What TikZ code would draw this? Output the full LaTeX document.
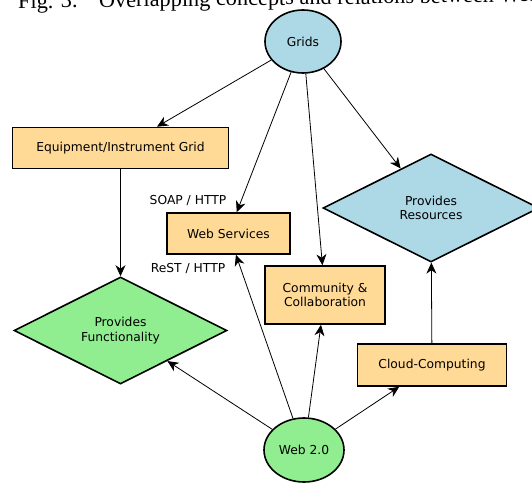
\documentclass[tikz,border=0pt]{standalone}
\usepackage{fontspec}
\setmainfont{DejaVu Sans}
\newfontfamily\capfont{Liberation Serif}
\usetikzlibrary{shapes.geometric,arrows.meta}
\definecolor{boxorange}{RGB}{255,217,150}
\definecolor{nodeblue}{RGB}{173,216,230}
\definecolor{nodegreen}{RGB}{144,238,144}
\tikzset{
  lbl/.style={font=\fontsize{12.3}{14.5}\selectfont, align=center},
  rectbox/.style={lbl, draw=black, line width=1.6pt, fill=boxorange, inner sep=0pt},
  ellnode/.style={lbl, ellipse, draw=black, line width=1.6pt, inner sep=0pt},
  dianode/.style={lbl, diamond, draw=black, line width=1.6pt, inner sep=0pt},
  conn/.style={line width=0.8pt, -{Stealth[length=11pt,width=10pt,inset=3.5pt]}},
  tag/.style={font=\fontsize{12.3}{14.5}\selectfont}
}
\begin{document}
\begin{tikzpicture}[x=1pt,y=-1pt]
\useasboundingbox (0,0) rectangle (532,484);
\clip (0,0) rectangle (532,484);
% cut-off caption (slightly tilted in the scan)
\node[anchor=base west, inner sep=0pt, rotate=0.75, font=\capfont\fontsize{22.3}{26}\selectfont] (cap) at (18,8.5) {Fig. 3.\hspace{21.4pt}Overlapping concepts and relations between Web 2.0};
% nodes
\node[ellnode, fill=nodeblue, minimum width=76pt, minimum height=63pt] (grids) at (303,41.5) {Grids};
\node[rectbox, minimum width=216pt, minimum height=41pt] (equip) at (120.5,148) {Equipment/Instrument Grid};
\node[rectbox, minimum width=123pt, minimum height=41pt] (ws) at (228.5,233.5) {Web Services};
\node[rectbox, minimum width=120pt, minimum height=58pt] (comm) at (325,295) {Community \&\\Collaboration};
\node[rectbox, minimum width=149pt, minimum height=42pt] (cloud) at (432,365) {Cloud-Computing};
\node[dianode, fill=nodeblue, minimum width=216pt, minimum height=108pt] (res) at (431,208) {Provides\\Resources};
\node[dianode, fill=nodegreen, minimum width=213pt, minimum height=107pt] (func) at (120.5,330.5) {Provides\\Functionality};
\node[ellnode, fill=nodegreen, minimum width=80pt, minimum height=64pt] (web) at (304,450) {Web 2.0};
% labels
\node[tag] (soap) at (188,201) {SOAP / HTTP};
\node[tag] (rest) at (188,269) {ReST / HTTP};
% connectors
\draw[conn] (grids) -- (equip);
\draw[conn] (grids) -- (ws);
\draw[conn] (grids) -- (comm);
\draw[conn] (grids) -- (res);
\draw[conn] (equip) -- (func);
\draw[conn] (web) -- (ws);
\draw[conn] (web) -- (comm);
\draw[conn] (web) -- (func);
\draw[conn] (web) -- (cloud);
\draw[conn] (cloud) -- (res);
\end{tikzpicture}
\end{document}
